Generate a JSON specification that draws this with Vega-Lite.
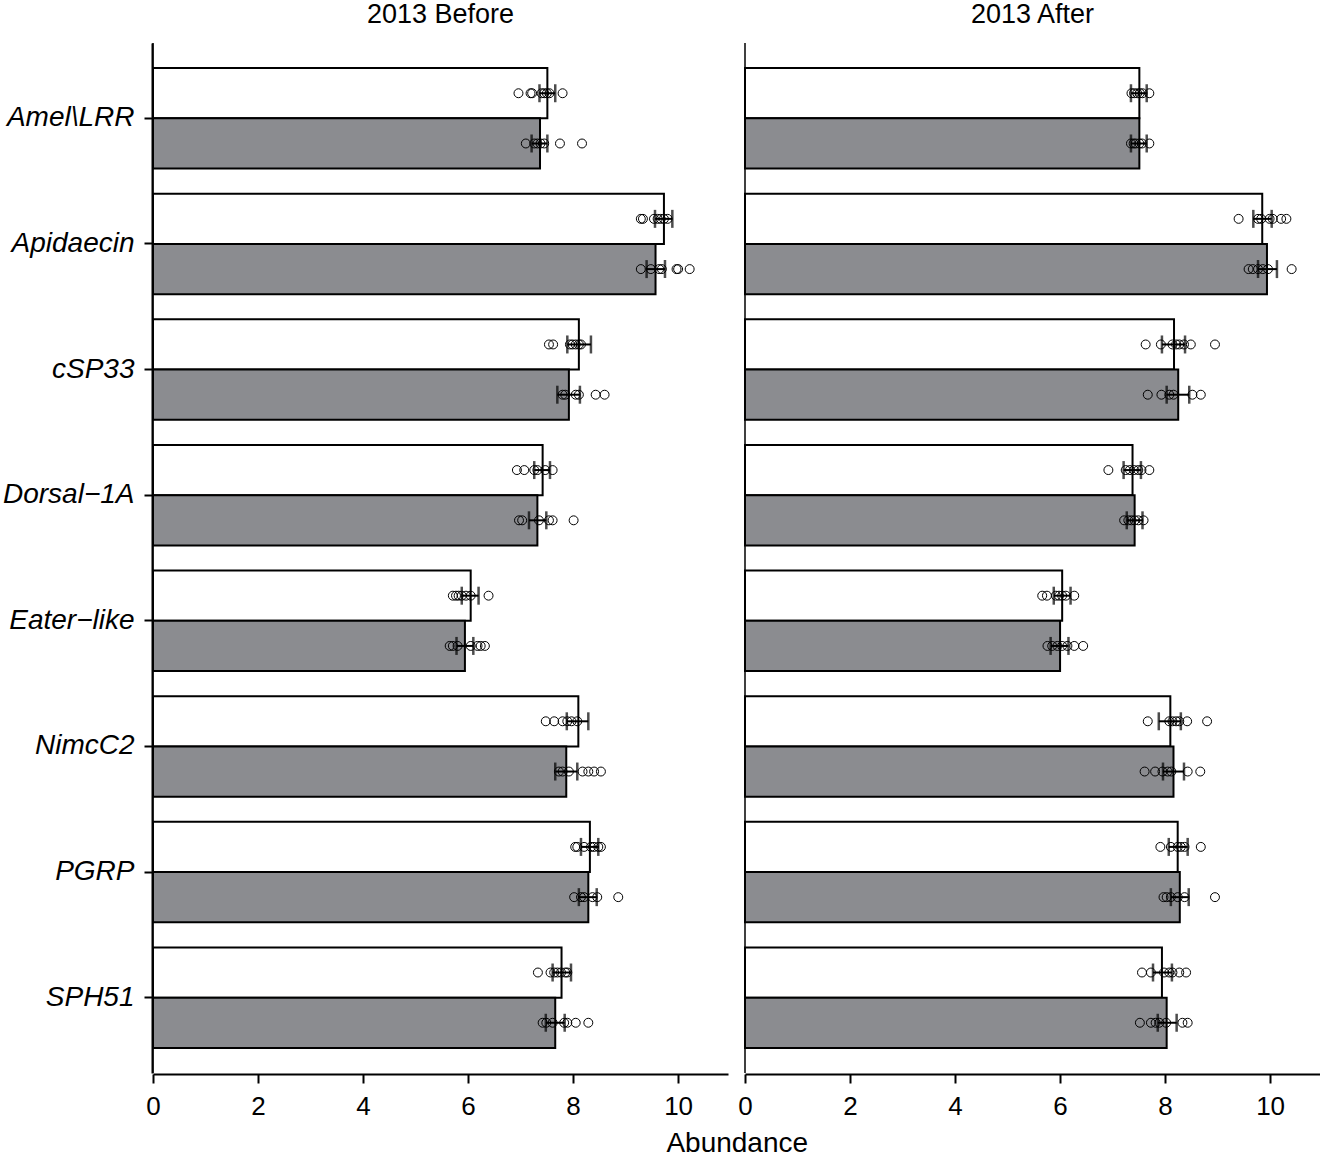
{
 "$schema": "https://vega.github.io/schema/vega-lite/v6.json",
 "padding": {"left": 2, "top": 1, "right": 0, "bottom": 0},
 "config": {
  "view": {"stroke": null},
  "font": "Liberation Sans",
  "axisY": {"domainColor": "black", "domainWidth": 2, "tickColor": "black", "tickWidth": 2, "tickSize": 8, "labelFontSize": 28, "labelFontStyle": "italic", "labelColor": "black", "labelPadding": 10, "labelFont": "Liberation Sans", "grid": false, "title": null},
  "axisX": {"domainColor": "black", "domainWidth": 2, "tickColor": "black", "tickWidth": 2, "tickSize": 9, "labelFontSize": 26, "labelFont": "Liberation Sans Narrow, Arial Narrow, Liberation Sans", "labelColor": "black", "labelPadding": 10, "labelFlush": false, "grid": false, "title": null}
 },
 "title": {"text": "Abundance", "orient": "bottom", "anchor": "middle", "fontSize": 28, "fontWeight": "normal", "font": "Liberation Sans", "color": "black", "offset": 11, "dx": 76},
 "data": {"values": [
  {"kind":"bar","period":"2013 Before","gene":"Amel\\LRR","group":"Group 1","mean":7.51,"lo":7.36,"hi":7.66},
  {"kind":"bar","period":"2013 Before","gene":"Amel\\LRR","group":"Group 2","mean":7.37,"lo":7.21,"hi":7.51},
  {"kind":"bar","period":"2013 Before","gene":"Apidaecin","group":"Group 1","mean":9.73,"lo":9.56,"hi":9.89},
  {"kind":"bar","period":"2013 Before","gene":"Apidaecin","group":"Group 2","mean":9.57,"lo":9.40,"hi":9.75},
  {"kind":"bar","period":"2013 Before","gene":"cSP33","group":"Group 1","mean":8.11,"lo":7.89,"hi":8.34},
  {"kind":"bar","period":"2013 Before","gene":"cSP33","group":"Group 2","mean":7.92,"lo":7.70,"hi":8.13},
  {"kind":"bar","period":"2013 Before","gene":"Dorsal−1A","group":"Group 1","mean":7.42,"lo":7.26,"hi":7.56},
  {"kind":"bar","period":"2013 Before","gene":"Dorsal−1A","group":"Group 2","mean":7.32,"lo":7.16,"hi":7.49},
  {"kind":"bar","period":"2013 Before","gene":"Eater−like","group":"Group 1","mean":6.05,"lo":5.88,"hi":6.20},
  {"kind":"bar","period":"2013 Before","gene":"Eater−like","group":"Group 2","mean":5.94,"lo":5.78,"hi":6.10},
  {"kind":"bar","period":"2013 Before","gene":"NimcC2","group":"Group 1","mean":8.10,"lo":7.88,"hi":8.29},
  {"kind":"bar","period":"2013 Before","gene":"NimcC2","group":"Group 2","mean":7.87,"lo":7.66,"hi":8.08},
  {"kind":"bar","period":"2013 Before","gene":"PGRP","group":"Group 1","mean":8.32,"lo":8.15,"hi":8.48},
  {"kind":"bar","period":"2013 Before","gene":"PGRP","group":"Group 2","mean":8.29,"lo":8.11,"hi":8.45},
  {"kind":"bar","period":"2013 Before","gene":"SPH51","group":"Group 1","mean":7.78,"lo":7.61,"hi":7.96},
  {"kind":"bar","period":"2013 Before","gene":"SPH51","group":"Group 2","mean":7.66,"lo":7.48,"hi":7.84},
  {"kind":"bar","period":"2013 After","gene":"Amel\\LRR","group":"Group 1","mean":7.51,"lo":7.35,"hi":7.65},
  {"kind":"bar","period":"2013 After","gene":"Amel\\LRR","group":"Group 2","mean":7.51,"lo":7.35,"hi":7.65},
  {"kind":"bar","period":"2013 After","gene":"Apidaecin","group":"Group 1","mean":9.85,"lo":9.68,"hi":10.03},
  {"kind":"bar","period":"2013 After","gene":"Apidaecin","group":"Group 2","mean":9.94,"lo":9.77,"hi":10.13},
  {"kind":"bar","period":"2013 After","gene":"cSP33","group":"Group 1","mean":8.17,"lo":7.94,"hi":8.38},
  {"kind":"bar","period":"2013 After","gene":"cSP33","group":"Group 2","mean":8.25,"lo":8.03,"hi":8.46},
  {"kind":"bar","period":"2013 After","gene":"Dorsal−1A","group":"Group 1","mean":7.38,"lo":7.21,"hi":7.54},
  {"kind":"bar","period":"2013 After","gene":"Dorsal−1A","group":"Group 2","mean":7.42,"lo":7.27,"hi":7.57},
  {"kind":"bar","period":"2013 After","gene":"Eater−like","group":"Group 1","mean":6.04,"lo":5.88,"hi":6.20},
  {"kind":"bar","period":"2013 After","gene":"Eater−like","group":"Group 2","mean":6.00,"lo":5.82,"hi":6.16},
  {"kind":"bar","period":"2013 After","gene":"NimcC2","group":"Group 1","mean":8.10,"lo":7.88,"hi":8.30},
  {"kind":"bar","period":"2013 After","gene":"NimcC2","group":"Group 2","mean":8.16,"lo":7.96,"hi":8.36},
  {"kind":"bar","period":"2013 After","gene":"PGRP","group":"Group 1","mean":8.24,"lo":8.07,"hi":8.43},
  {"kind":"bar","period":"2013 After","gene":"PGRP","group":"Group 2","mean":8.28,"lo":8.11,"hi":8.45},
  {"kind":"bar","period":"2013 After","gene":"SPH51","group":"Group 1","mean":7.94,"lo":7.77,"hi":8.13},
  {"kind":"bar","period":"2013 After","gene":"SPH51","group":"Group 2","mean":8.03,"lo":7.86,"hi":8.22},

  {"kind":"pt","period":"2013 Before","gene":"Amel\\LRR","group":"Group 1","value":6.96},
  {"kind":"pt","period":"2013 Before","gene":"Amel\\LRR","group":"Group 1","value":7.19},
  {"kind":"pt","period":"2013 Before","gene":"Amel\\LRR","group":"Group 1","value":7.22},
  {"kind":"pt","period":"2013 Before","gene":"Amel\\LRR","group":"Group 1","value":7.40},
  {"kind":"pt","period":"2013 Before","gene":"Amel\\LRR","group":"Group 1","value":7.45},
  {"kind":"pt","period":"2013 Before","gene":"Amel\\LRR","group":"Group 1","value":7.50},
  {"kind":"pt","period":"2013 Before","gene":"Amel\\LRR","group":"Group 1","value":7.55},
  {"kind":"pt","period":"2013 Before","gene":"Amel\\LRR","group":"Group 1","value":7.80},
  {"kind":"pt","period":"2013 Before","gene":"Amel\\LRR","group":"Group 2","value":7.10},
  {"kind":"pt","period":"2013 Before","gene":"Amel\\LRR","group":"Group 2","value":7.26},
  {"kind":"pt","period":"2013 Before","gene":"Amel\\LRR","group":"Group 2","value":7.32},
  {"kind":"pt","period":"2013 Before","gene":"Amel\\LRR","group":"Group 2","value":7.38},
  {"kind":"pt","period":"2013 Before","gene":"Amel\\LRR","group":"Group 2","value":7.45},
  {"kind":"pt","period":"2013 Before","gene":"Amel\\LRR","group":"Group 2","value":7.75},
  {"kind":"pt","period":"2013 Before","gene":"Amel\\LRR","group":"Group 2","value":8.17},
  {"kind":"pt","period":"2013 Before","gene":"Apidaecin","group":"Group 1","value":9.29},
  {"kind":"pt","period":"2013 Before","gene":"Apidaecin","group":"Group 1","value":9.33},
  {"kind":"pt","period":"2013 Before","gene":"Apidaecin","group":"Group 1","value":9.54},
  {"kind":"pt","period":"2013 Before","gene":"Apidaecin","group":"Group 1","value":9.61},
  {"kind":"pt","period":"2013 Before","gene":"Apidaecin","group":"Group 1","value":9.67},
  {"kind":"pt","period":"2013 Before","gene":"Apidaecin","group":"Group 1","value":9.73},
  {"kind":"pt","period":"2013 Before","gene":"Apidaecin","group":"Group 1","value":9.80},
  {"kind":"pt","period":"2013 Before","gene":"Apidaecin","group":"Group 2","value":9.29},
  {"kind":"pt","period":"2013 Before","gene":"Apidaecin","group":"Group 2","value":9.48},
  {"kind":"pt","period":"2013 Before","gene":"Apidaecin","group":"Group 2","value":9.64},
  {"kind":"pt","period":"2013 Before","gene":"Apidaecin","group":"Group 2","value":9.69},
  {"kind":"pt","period":"2013 Before","gene":"Apidaecin","group":"Group 2","value":9.97},
  {"kind":"pt","period":"2013 Before","gene":"Apidaecin","group":"Group 2","value":10.00},
  {"kind":"pt","period":"2013 Before","gene":"Apidaecin","group":"Group 2","value":10.22},
  {"kind":"pt","period":"2013 Before","gene":"cSP33","group":"Group 1","value":7.54},
  {"kind":"pt","period":"2013 Before","gene":"cSP33","group":"Group 1","value":7.62},
  {"kind":"pt","period":"2013 Before","gene":"cSP33","group":"Group 1","value":7.94},
  {"kind":"pt","period":"2013 Before","gene":"cSP33","group":"Group 1","value":7.99},
  {"kind":"pt","period":"2013 Before","gene":"cSP33","group":"Group 1","value":8.05},
  {"kind":"pt","period":"2013 Before","gene":"cSP33","group":"Group 1","value":8.11},
  {"kind":"pt","period":"2013 Before","gene":"cSP33","group":"Group 1","value":8.15},
  {"kind":"pt","period":"2013 Before","gene":"cSP33","group":"Group 2","value":7.80},
  {"kind":"pt","period":"2013 Before","gene":"cSP33","group":"Group 2","value":7.85},
  {"kind":"pt","period":"2013 Before","gene":"cSP33","group":"Group 2","value":8.05},
  {"kind":"pt","period":"2013 Before","gene":"cSP33","group":"Group 2","value":8.11},
  {"kind":"pt","period":"2013 Before","gene":"cSP33","group":"Group 2","value":8.43},
  {"kind":"pt","period":"2013 Before","gene":"cSP33","group":"Group 2","value":8.60},
  {"kind":"pt","period":"2013 Before","gene":"Dorsal−1A","group":"Group 1","value":6.93},
  {"kind":"pt","period":"2013 Before","gene":"Dorsal−1A","group":"Group 1","value":7.07},
  {"kind":"pt","period":"2013 Before","gene":"Dorsal−1A","group":"Group 1","value":7.26},
  {"kind":"pt","period":"2013 Before","gene":"Dorsal−1A","group":"Group 1","value":7.32},
  {"kind":"pt","period":"2013 Before","gene":"Dorsal−1A","group":"Group 1","value":7.47},
  {"kind":"pt","period":"2013 Before","gene":"Dorsal−1A","group":"Group 1","value":7.61},
  {"kind":"pt","period":"2013 Before","gene":"Dorsal−1A","group":"Group 2","value":6.97},
  {"kind":"pt","period":"2013 Before","gene":"Dorsal−1A","group":"Group 2","value":7.03},
  {"kind":"pt","period":"2013 Before","gene":"Dorsal−1A","group":"Group 2","value":7.35},
  {"kind":"pt","period":"2013 Before","gene":"Dorsal−1A","group":"Group 2","value":7.54},
  {"kind":"pt","period":"2013 Before","gene":"Dorsal−1A","group":"Group 2","value":7.61},
  {"kind":"pt","period":"2013 Before","gene":"Dorsal−1A","group":"Group 2","value":8.01},
  {"kind":"pt","period":"2013 Before","gene":"Eater−like","group":"Group 1","value":5.71},
  {"kind":"pt","period":"2013 Before","gene":"Eater−like","group":"Group 1","value":5.77},
  {"kind":"pt","period":"2013 Before","gene":"Eater−like","group":"Group 1","value":5.82},
  {"kind":"pt","period":"2013 Before","gene":"Eater−like","group":"Group 1","value":5.88},
  {"kind":"pt","period":"2013 Before","gene":"Eater−like","group":"Group 1","value":5.96},
  {"kind":"pt","period":"2013 Before","gene":"Eater−like","group":"Group 1","value":6.05},
  {"kind":"pt","period":"2013 Before","gene":"Eater−like","group":"Group 1","value":6.39},
  {"kind":"pt","period":"2013 Before","gene":"Eater−like","group":"Group 2","value":5.65},
  {"kind":"pt","period":"2013 Before","gene":"Eater−like","group":"Group 2","value":5.71},
  {"kind":"pt","period":"2013 Before","gene":"Eater−like","group":"Group 2","value":5.80},
  {"kind":"pt","period":"2013 Before","gene":"Eater−like","group":"Group 2","value":6.05},
  {"kind":"pt","period":"2013 Before","gene":"Eater−like","group":"Group 2","value":6.18},
  {"kind":"pt","period":"2013 Before","gene":"Eater−like","group":"Group 2","value":6.24},
  {"kind":"pt","period":"2013 Before","gene":"Eater−like","group":"Group 2","value":6.32},
  {"kind":"pt","period":"2013 Before","gene":"NimcC2","group":"Group 1","value":7.48},
  {"kind":"pt","period":"2013 Before","gene":"NimcC2","group":"Group 1","value":7.64},
  {"kind":"pt","period":"2013 Before","gene":"NimcC2","group":"Group 1","value":7.80},
  {"kind":"pt","period":"2013 Before","gene":"NimcC2","group":"Group 1","value":7.89},
  {"kind":"pt","period":"2013 Before","gene":"NimcC2","group":"Group 1","value":7.97},
  {"kind":"pt","period":"2013 Before","gene":"NimcC2","group":"Group 1","value":8.08},
  {"kind":"pt","period":"2013 Before","gene":"NimcC2","group":"Group 2","value":7.73},
  {"kind":"pt","period":"2013 Before","gene":"NimcC2","group":"Group 2","value":7.80},
  {"kind":"pt","period":"2013 Before","gene":"NimcC2","group":"Group 2","value":7.92},
  {"kind":"pt","period":"2013 Before","gene":"NimcC2","group":"Group 2","value":8.18},
  {"kind":"pt","period":"2013 Before","gene":"NimcC2","group":"Group 2","value":8.29},
  {"kind":"pt","period":"2013 Before","gene":"NimcC2","group":"Group 2","value":8.40},
  {"kind":"pt","period":"2013 Before","gene":"NimcC2","group":"Group 2","value":8.53},
  {"kind":"pt","period":"2013 Before","gene":"PGRP","group":"Group 1","value":8.04},
  {"kind":"pt","period":"2013 Before","gene":"PGRP","group":"Group 1","value":8.08},
  {"kind":"pt","period":"2013 Before","gene":"PGRP","group":"Group 1","value":8.21},
  {"kind":"pt","period":"2013 Before","gene":"PGRP","group":"Group 1","value":8.34},
  {"kind":"pt","period":"2013 Before","gene":"PGRP","group":"Group 1","value":8.40},
  {"kind":"pt","period":"2013 Before","gene":"PGRP","group":"Group 1","value":8.48},
  {"kind":"pt","period":"2013 Before","gene":"PGRP","group":"Group 1","value":8.53},
  {"kind":"pt","period":"2013 Before","gene":"PGRP","group":"Group 2","value":8.02},
  {"kind":"pt","period":"2013 Before","gene":"PGRP","group":"Group 2","value":8.15},
  {"kind":"pt","period":"2013 Before","gene":"PGRP","group":"Group 2","value":8.21},
  {"kind":"pt","period":"2013 Before","gene":"PGRP","group":"Group 2","value":8.37},
  {"kind":"pt","period":"2013 Before","gene":"PGRP","group":"Group 2","value":8.46},
  {"kind":"pt","period":"2013 Before","gene":"PGRP","group":"Group 2","value":8.86},
  {"kind":"pt","period":"2013 Before","gene":"SPH51","group":"Group 1","value":7.33},
  {"kind":"pt","period":"2013 Before","gene":"SPH51","group":"Group 1","value":7.57},
  {"kind":"pt","period":"2013 Before","gene":"SPH51","group":"Group 1","value":7.64},
  {"kind":"pt","period":"2013 Before","gene":"SPH51","group":"Group 1","value":7.70},
  {"kind":"pt","period":"2013 Before","gene":"SPH51","group":"Group 1","value":7.77},
  {"kind":"pt","period":"2013 Before","gene":"SPH51","group":"Group 1","value":7.85},
  {"kind":"pt","period":"2013 Before","gene":"SPH51","group":"Group 1","value":7.89},
  {"kind":"pt","period":"2013 Before","gene":"SPH51","group":"Group 2","value":7.42},
  {"kind":"pt","period":"2013 Before","gene":"SPH51","group":"Group 2","value":7.49},
  {"kind":"pt","period":"2013 Before","gene":"SPH51","group":"Group 2","value":7.61},
  {"kind":"pt","period":"2013 Before","gene":"SPH51","group":"Group 2","value":7.83},
  {"kind":"pt","period":"2013 Before","gene":"SPH51","group":"Group 2","value":7.89},
  {"kind":"pt","period":"2013 Before","gene":"SPH51","group":"Group 2","value":8.05},
  {"kind":"pt","period":"2013 Before","gene":"SPH51","group":"Group 2","value":8.29},

  {"kind":"pt","period":"2013 After","gene":"Amel\\LRR","group":"Group 1","value":7.36},
  {"kind":"pt","period":"2013 After","gene":"Amel\\LRR","group":"Group 1","value":7.41},
  {"kind":"pt","period":"2013 After","gene":"Amel\\LRR","group":"Group 1","value":7.47},
  {"kind":"pt","period":"2013 After","gene":"Amel\\LRR","group":"Group 1","value":7.52},
  {"kind":"pt","period":"2013 After","gene":"Amel\\LRR","group":"Group 1","value":7.57},
  {"kind":"pt","period":"2013 After","gene":"Amel\\LRR","group":"Group 1","value":7.70},
  {"kind":"pt","period":"2013 After","gene":"Amel\\LRR","group":"Group 2","value":7.35},
  {"kind":"pt","period":"2013 After","gene":"Amel\\LRR","group":"Group 2","value":7.40},
  {"kind":"pt","period":"2013 After","gene":"Amel\\LRR","group":"Group 2","value":7.44},
  {"kind":"pt","period":"2013 After","gene":"Amel\\LRR","group":"Group 2","value":7.51},
  {"kind":"pt","period":"2013 After","gene":"Amel\\LRR","group":"Group 2","value":7.56},
  {"kind":"pt","period":"2013 After","gene":"Amel\\LRR","group":"Group 2","value":7.70},
  {"kind":"pt","period":"2013 After","gene":"Apidaecin","group":"Group 1","value":9.40},
  {"kind":"pt","period":"2013 After","gene":"Apidaecin","group":"Group 1","value":9.77},
  {"kind":"pt","period":"2013 After","gene":"Apidaecin","group":"Group 1","value":9.83},
  {"kind":"pt","period":"2013 After","gene":"Apidaecin","group":"Group 1","value":9.99},
  {"kind":"pt","period":"2013 After","gene":"Apidaecin","group":"Group 1","value":10.05},
  {"kind":"pt","period":"2013 After","gene":"Apidaecin","group":"Group 1","value":10.21},
  {"kind":"pt","period":"2013 After","gene":"Apidaecin","group":"Group 1","value":10.31},
  {"kind":"pt","period":"2013 After","gene":"Apidaecin","group":"Group 2","value":9.59},
  {"kind":"pt","period":"2013 After","gene":"Apidaecin","group":"Group 2","value":9.67},
  {"kind":"pt","period":"2013 After","gene":"Apidaecin","group":"Group 2","value":9.77},
  {"kind":"pt","period":"2013 After","gene":"Apidaecin","group":"Group 2","value":9.86},
  {"kind":"pt","period":"2013 After","gene":"Apidaecin","group":"Group 2","value":9.96},
  {"kind":"pt","period":"2013 After","gene":"Apidaecin","group":"Group 2","value":10.41},
  {"kind":"pt","period":"2013 After","gene":"cSP33","group":"Group 1","value":7.63},
  {"kind":"pt","period":"2013 After","gene":"cSP33","group":"Group 1","value":7.92},
  {"kind":"pt","period":"2013 After","gene":"cSP33","group":"Group 1","value":8.14},
  {"kind":"pt","period":"2013 After","gene":"cSP33","group":"Group 1","value":8.21},
  {"kind":"pt","period":"2013 After","gene":"cSP33","group":"Group 1","value":8.27},
  {"kind":"pt","period":"2013 After","gene":"cSP33","group":"Group 1","value":8.36},
  {"kind":"pt","period":"2013 After","gene":"cSP33","group":"Group 1","value":8.49},
  {"kind":"pt","period":"2013 After","gene":"cSP33","group":"Group 1","value":8.95},
  {"kind":"pt","period":"2013 After","gene":"cSP33","group":"Group 2","value":7.67},
  {"kind":"pt","period":"2013 After","gene":"cSP33","group":"Group 2","value":7.93},
  {"kind":"pt","period":"2013 After","gene":"cSP33","group":"Group 2","value":8.08},
  {"kind":"pt","period":"2013 After","gene":"cSP33","group":"Group 2","value":8.16},
  {"kind":"pt","period":"2013 After","gene":"cSP33","group":"Group 2","value":8.52},
  {"kind":"pt","period":"2013 After","gene":"cSP33","group":"Group 2","value":8.68},
  {"kind":"pt","period":"2013 After","gene":"Dorsal−1A","group":"Group 1","value":6.92},
  {"kind":"pt","period":"2013 After","gene":"Dorsal−1A","group":"Group 1","value":7.25},
  {"kind":"pt","period":"2013 After","gene":"Dorsal−1A","group":"Group 1","value":7.33},
  {"kind":"pt","period":"2013 After","gene":"Dorsal−1A","group":"Group 1","value":7.41},
  {"kind":"pt","period":"2013 After","gene":"Dorsal−1A","group":"Group 1","value":7.49},
  {"kind":"pt","period":"2013 After","gene":"Dorsal−1A","group":"Group 1","value":7.55},
  {"kind":"pt","period":"2013 After","gene":"Dorsal−1A","group":"Group 1","value":7.70},
  {"kind":"pt","period":"2013 After","gene":"Dorsal−1A","group":"Group 2","value":7.22},
  {"kind":"pt","period":"2013 After","gene":"Dorsal−1A","group":"Group 2","value":7.30},
  {"kind":"pt","period":"2013 After","gene":"Dorsal−1A","group":"Group 2","value":7.36},
  {"kind":"pt","period":"2013 After","gene":"Dorsal−1A","group":"Group 2","value":7.42},
  {"kind":"pt","period":"2013 After","gene":"Dorsal−1A","group":"Group 2","value":7.49},
  {"kind":"pt","period":"2013 After","gene":"Dorsal−1A","group":"Group 2","value":7.59},
  {"kind":"pt","period":"2013 After","gene":"Eater−like","group":"Group 1","value":5.66},
  {"kind":"pt","period":"2013 After","gene":"Eater−like","group":"Group 1","value":5.75},
  {"kind":"pt","period":"2013 After","gene":"Eater−like","group":"Group 1","value":5.92},
  {"kind":"pt","period":"2013 After","gene":"Eater−like","group":"Group 1","value":5.98},
  {"kind":"pt","period":"2013 After","gene":"Eater−like","group":"Group 1","value":6.04},
  {"kind":"pt","period":"2013 After","gene":"Eater−like","group":"Group 1","value":6.11},
  {"kind":"pt","period":"2013 After","gene":"Eater−like","group":"Group 1","value":6.27},
  {"kind":"pt","period":"2013 After","gene":"Eater−like","group":"Group 2","value":5.76},
  {"kind":"pt","period":"2013 After","gene":"Eater−like","group":"Group 2","value":5.85},
  {"kind":"pt","period":"2013 After","gene":"Eater−like","group":"Group 2","value":5.95},
  {"kind":"pt","period":"2013 After","gene":"Eater−like","group":"Group 2","value":6.04},
  {"kind":"pt","period":"2013 After","gene":"Eater−like","group":"Group 2","value":6.14},
  {"kind":"pt","period":"2013 After","gene":"Eater−like","group":"Group 2","value":6.27},
  {"kind":"pt","period":"2013 After","gene":"Eater−like","group":"Group 2","value":6.44},
  {"kind":"pt","period":"2013 After","gene":"NimcC2","group":"Group 1","value":7.67},
  {"kind":"pt","period":"2013 After","gene":"NimcC2","group":"Group 1","value":8.08},
  {"kind":"pt","period":"2013 After","gene":"NimcC2","group":"Group 1","value":8.14},
  {"kind":"pt","period":"2013 After","gene":"NimcC2","group":"Group 1","value":8.21},
  {"kind":"pt","period":"2013 After","gene":"NimcC2","group":"Group 1","value":8.27},
  {"kind":"pt","period":"2013 After","gene":"NimcC2","group":"Group 1","value":8.42},
  {"kind":"pt","period":"2013 After","gene":"NimcC2","group":"Group 1","value":8.80},
  {"kind":"pt","period":"2013 After","gene":"NimcC2","group":"Group 2","value":7.61},
  {"kind":"pt","period":"2013 After","gene":"NimcC2","group":"Group 2","value":7.81},
  {"kind":"pt","period":"2013 After","gene":"NimcC2","group":"Group 2","value":7.95},
  {"kind":"pt","period":"2013 After","gene":"NimcC2","group":"Group 2","value":8.05},
  {"kind":"pt","period":"2013 After","gene":"NimcC2","group":"Group 2","value":8.12},
  {"kind":"pt","period":"2013 After","gene":"NimcC2","group":"Group 2","value":8.43},
  {"kind":"pt","period":"2013 After","gene":"NimcC2","group":"Group 2","value":8.67},
  {"kind":"pt","period":"2013 After","gene":"PGRP","group":"Group 1","value":7.91},
  {"kind":"pt","period":"2013 After","gene":"PGRP","group":"Group 1","value":8.11},
  {"kind":"pt","period":"2013 After","gene":"PGRP","group":"Group 1","value":8.24},
  {"kind":"pt","period":"2013 After","gene":"PGRP","group":"Group 1","value":8.30},
  {"kind":"pt","period":"2013 After","gene":"PGRP","group":"Group 1","value":8.37},
  {"kind":"pt","period":"2013 After","gene":"PGRP","group":"Group 1","value":8.68},
  {"kind":"pt","period":"2013 After","gene":"PGRP","group":"Group 2","value":7.97},
  {"kind":"pt","period":"2013 After","gene":"PGRP","group":"Group 2","value":8.03},
  {"kind":"pt","period":"2013 After","gene":"PGRP","group":"Group 2","value":8.11},
  {"kind":"pt","period":"2013 After","gene":"PGRP","group":"Group 2","value":8.24},
  {"kind":"pt","period":"2013 After","gene":"PGRP","group":"Group 2","value":8.37},
  {"kind":"pt","period":"2013 After","gene":"PGRP","group":"Group 2","value":8.95},
  {"kind":"pt","period":"2013 After","gene":"SPH51","group":"Group 1","value":7.56},
  {"kind":"pt","period":"2013 After","gene":"SPH51","group":"Group 1","value":7.73},
  {"kind":"pt","period":"2013 After","gene":"SPH51","group":"Group 1","value":7.98},
  {"kind":"pt","period":"2013 After","gene":"SPH51","group":"Group 1","value":8.08},
  {"kind":"pt","period":"2013 After","gene":"SPH51","group":"Group 1","value":8.14},
  {"kind":"pt","period":"2013 After","gene":"SPH51","group":"Group 1","value":8.27},
  {"kind":"pt","period":"2013 After","gene":"SPH51","group":"Group 1","value":8.40},
  {"kind":"pt","period":"2013 After","gene":"SPH51","group":"Group 2","value":7.52},
  {"kind":"pt","period":"2013 After","gene":"SPH51","group":"Group 2","value":7.73},
  {"kind":"pt","period":"2013 After","gene":"SPH51","group":"Group 2","value":7.82},
  {"kind":"pt","period":"2013 After","gene":"SPH51","group":"Group 2","value":7.89},
  {"kind":"pt","period":"2013 After","gene":"SPH51","group":"Group 2","value":8.02},
  {"kind":"pt","period":"2013 After","gene":"SPH51","group":"Group 2","value":8.33},
  {"kind":"pt","period":"2013 After","gene":"SPH51","group":"Group 2","value":8.43}
 ]},
 "facet": {
  "column": {"field": "period", "type": "nominal", "sort": ["2013 Before", "2013 After"],
   "header": {"title": null, "labelFontSize": 27, "labelFont": "Liberation Sans", "labelColor": "black", "labelPadding": 13}}
 },
 "spacing": 16,
 "spec": {
  "width": 575,
  "height": 1030,
  "encoding": {
   "y": {"field": "gene", "type": "nominal", "sort": ["Amel\\LRR", "Apidaecin", "cSP33", "Dorsal−1A", "Eater−like", "NimcC2", "PGRP", "SPH51"], "scale": {"paddingInner": 0.2, "paddingOuter": 0.2}, "title": null},
   "yOffset": {"field": "group", "type": "nominal", "sort": ["Group 1", "Group 2"], "scale": {"paddingInner": 0, "paddingOuter": 0}}
  },
  "layer": [
   {
    "transform": [{"filter": "datum.kind === 'bar'"}],
    "mark": {"type": "bar", "stroke": "black", "strokeWidth": 2},
    "encoding": {
     "x": {"field": "mean", "type": "quantitative", "scale": {"domain": [0, 10.95], "nice": false, "zero": true}, "axis": {"values": [0, 2, 4, 6, 8, 10], "title": null}, "title": null},
     "fill": {"field": "group", "type": "nominal", "scale": {"domain": ["Group 1", "Group 2"], "range": ["#ffffff", "#8b8c90"]}, "legend": null}
    }
   },
   {
    "transform": [{"filter": "datum.kind === 'bar'"}],
    "mark": {"type": "rule", "color": "black", "strokeWidth": 2},
    "encoding": {
     "x": {"field": "lo", "type": "quantitative"},
     "x2": {"field": "hi"}
    }
   },
   {
    "transform": [{"filter": "datum.kind === 'bar'"}],
    "mark": {"type": "tick", "color": "black", "thickness": 2.5, "size": 18},
    "encoding": {"x": {"field": "lo", "type": "quantitative"}}
   },
   {
    "transform": [{"filter": "datum.kind === 'bar'"}],
    "mark": {"type": "tick", "color": "black", "thickness": 2.5, "size": 18},
    "encoding": {"x": {"field": "hi", "type": "quantitative"}}
   },
   {
    "transform": [{"filter": "datum.kind === 'pt'"}],
    "mark": {"type": "point", "shape": "circle", "filled": false, "color": "black", "size": 80, "strokeWidth": 1, "opacity": 1},
    "encoding": {"x": {"field": "value", "type": "quantitative"}}
   },
   {
    "transform": [{"filter": "datum.kind === 'bar' && datum.group === 'Group 1' && datum.gene === 'SPH51'"}],
    "mark": {"type": "rule", "color": "black", "strokeWidth": 1.5},
    "encoding": {"x": {"datum": 0, "type": "quantitative"}, "y": null, "yOffset": null}
   }
  ]
 }
}
